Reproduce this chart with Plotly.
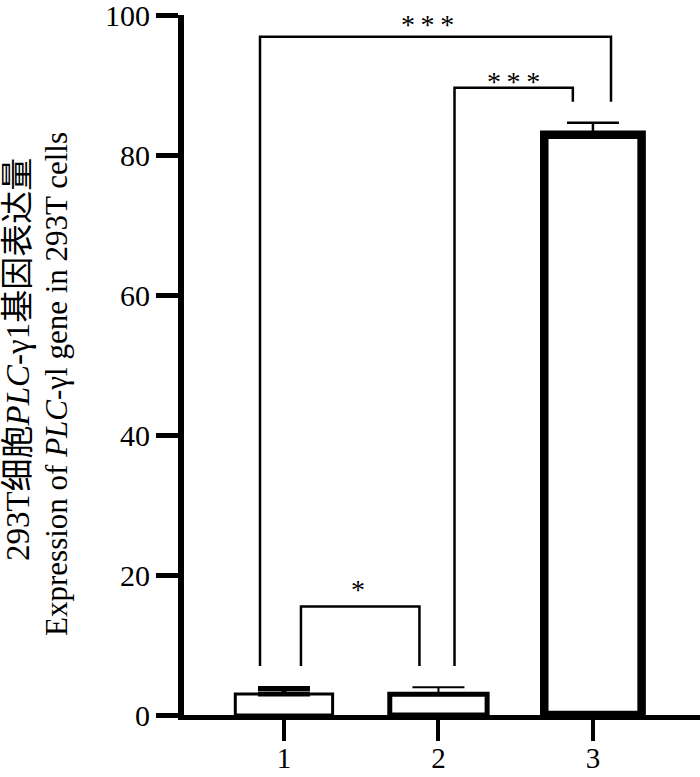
import plotly.graph_objects as go

FONT = "Liberation Serif, Times New Roman, Noto Sans CJK SC, serif"

# bar data
groups = [1, 2, 3]
group_labels = ["1", "2", "3"]
means = [3.0, 2.95, 82.9]
err_up = [0.8, 1.0, 1.7]

# significance brackets
sig_pairs = [(1, 2), (2, 3), (1, 3)]
sig_labels = ["*", "*\u2009*\u2009*", "*\u2009*\u2009*"]
bracket_top = [15.5, 89.6, 96.9]
bracket_feet = [(7.0, 7.0), (7.0, 87.6), (7.0, 87.6)]
leg_offsets = [(0.11, -0.123), (0.104, -0.13), (-0.155, 0.117)]
label_x = [1.477, 2.485, 1.93]
label_y = [18.3, 91.0, 99.1]

yticks = [0, 20, 40, 60, 80, 100]

# per-bar styling (the original uses different stroke weights)
outline_w = [3, 5, 8.5]
err_w = [5, 2, 2.5]

fig = go.Figure()

for i, g in enumerate(groups):
    fig.add_bar(
        x=[g],
        y=[means[i]],
        width=0.63,
        marker=dict(color="white", line=dict(color="black", width=outline_w[i])),
        error_y=dict(
            type="data",
            symmetric=False,
            array=[err_up[i]],
            arrayminus=[0],
            color="black",
            thickness=err_w[i],
            width=26,
        ),
        hoverinfo="skip",
    )

for (a, b), top, (fa, fb), (oa, ob) in zip(sig_pairs, bracket_top, bracket_feet, leg_offsets):
    fig.add_scatter(
        x=[a + oa, a + oa, b + ob, b + ob],
        y=[fa, top, top, fb],
        mode="lines",
        line=dict(color="black", width=2.5),
        hoverinfo="skip",
    )

for txt, lx, ly in zip(sig_labels, label_x, label_y):
    fig.add_annotation(
        x=lx, y=ly, xref="x", yref="y", text=txt, showarrow=False,
        font=dict(size=28, family=FONT, color="black"),
        xanchor="center", yanchor="middle", yshift=-3,
    )

# two-line y title, each line placed on its own
fig.add_annotation(
    x=-0.3217, y=0.507, xref="paper", yref="paper", textangle=-90,
    text="293T细胞<i>PLC</i>-γ1基因表达量", showarrow=False,
    font=dict(size=33, family=FONT, color="black"),
    xanchor="center", yanchor="middle",
)
fig.add_annotation(
    x=-0.2461, y=0.473, xref="paper", yref="paper", textangle=-90,
    text="Expression of <i>PLC</i>-γl gene in 293T cells", showarrow=False,
    font=dict(size=31, family=FONT, color="black"),
    xanchor="center", yanchor="middle",
)

fig.update_layout(
    width=700,
    height=777,
    margin=dict(l=184, r=0, t=15, b=62),
    plot_bgcolor="white",
    paper_bgcolor="white",
    barmode="overlay",
    showlegend=False,
    font=dict(family=FONT, color="black", size=30),
    xaxis=dict(
        range=[0.353, 3.693],
        tickvals=groups,
        ticktext=group_labels,
        showline=True, linewidth=5, linecolor="black",
        ticks="outside", ticklen=21, tickwidth=4, tickcolor="black",
        showgrid=False, zeroline=False, automargin=False,
        tickfont=dict(size=29, family=FONT, color="black"),
        ticklabeloverflow="allow",
        ticklabelstandoff=-8,
    ),
    yaxis=dict(
        range=[0, 100],
        tickvals=yticks,
        showline=True, linewidth=6, linecolor="black",
        ticks="outside", ticklen=22, tickwidth=5, tickcolor="black",
        showgrid=False, zeroline=False, automargin=False,
        tickfont=dict(size=30, family=FONT, color="black"),
        ticklabeloverflow="allow",
    ),
)

# drop the default page margin so the 700x777 figure fills the window
fig.write_html(
    "out.html",
    config={"displayModeBar": False},
    post_script="document.body.style.margin='0';",
)
